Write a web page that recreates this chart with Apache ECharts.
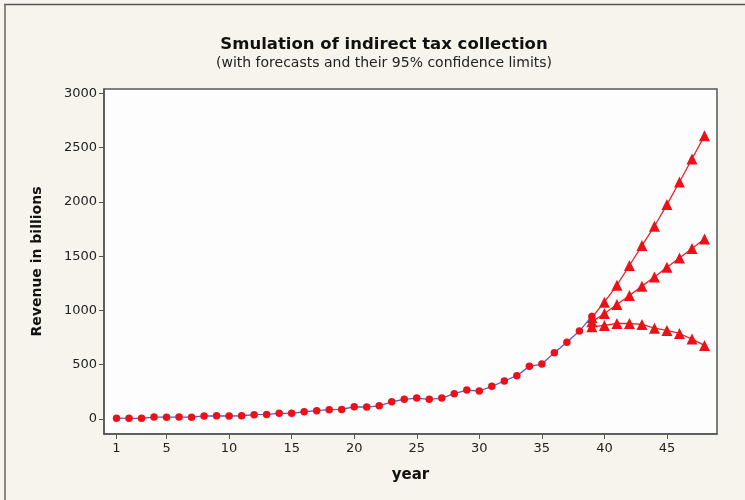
<!DOCTYPE html>
<html>
<head>
<meta charset="utf-8">
<script src="https://cdn.jsdelivr.net/npm/echarts@6/dist/echarts.min.js"></script>
<style>
html,body{margin:0;padding:0;background:#f6f4ec;}
#chart{width:745px;height:500px;}
</style>
</head>
<body>
<div id="chart"></div>
<script>
// Data
const years = [1,2,3,4,5,6,7,8,9,10,11,12,13,14,15,16,17,18,19,20,21,22,23,24,25,26,27,28,29,30,31,32,33,34,35,36,37,38,39];
const revenue = [8,6,7,18,17,18,17,28,29,28,30,40,42,52,52,67,77,86,88,113,110,122,159,181,193,181,193,233,267,258,301,350,399,485,506,610,708,810,945];
const forecastYears = [39,40,41,42,43,44,45,46,47,48];
const upper = [935,1076,1233,1414,1598,1776,1975,2183,2395,2610];
const forecast = [895,972,1055,1138,1224,1309,1398,1484,1570,1659];
const lower = [850,862,880,880,871,837,816,788,736,678];
const xTicks = [1,5,10,15,20,25,30,35,40,45];
const yTicks = [0,500,1000,1500,2000,2500,3000];

const pair = (xs, ys) => xs.map((x, i) => [x, ys[i]]);
const font = 'DejaVu Sans';

const chart = echarts.init(document.getElementById('chart'));
const triSeries = (name, vals) => ({
  name, type: 'line', data: pair(forecastYears, vals),
  symbol: 'triangle', symbolSize: 11,
  lineStyle: { color: '#e8232a', width: 1.3 },
  itemStyle: { color: '#ee1018' },
  z: 3
});
chart.setOption({
  backgroundColor: '#f6f4ec',
  animation: false,
  title: {
    text: 'Smulation of indirect tax collection',
    subtext: '(with forecasts and their 95% confidence limits)',
    left: 379, top: 31, textAlign: 'center',
    itemGap: 3,
    textStyle: { fontFamily: font, fontSize: 16.5, fontWeight: 'bold', color: '#111' },
    subtextStyle: { fontFamily: font, fontSize: 14, color: '#222' }
  },
  grid: {
    left: 104, right: 28, top: 89, bottom: 66,
    show: true, backgroundColor: '#fdfdfd', borderColor: '#555', borderWidth: 1.5
  },
  xAxis: {
    type: 'value', min: 0, max: 49,
    name: 'year', nameLocation: 'middle', nameGap: 34,
    nameTextStyle: { fontFamily: font, fontSize: 15, fontWeight: 'bold', color: '#111' },
    axisLine: { show: true, onZero: false, lineStyle: { color: '#555', width: 1.5 } },
    axisTick: { show: true, length: 5, customValues: xTicks, lineStyle: { color: '#555' } },
    axisLabel: { customValues: xTicks, fontFamily: font, fontSize: 13, color: '#222', margin: 8 },
    splitLine: { show: false }
  },
  yAxis: {
    type: 'value', min: -138, max: 3040,
    name: 'Revenue in billions', nameLocation: 'middle', nameGap: 60,
    nameTextStyle: { fontFamily: font, fontSize: 14, fontWeight: 'bold', color: '#111' },
    axisLine: { show: true, onZero: false, lineStyle: { color: '#555', width: 1.5 } },
    axisTick: { show: true, length: 5, customValues: yTicks, lineStyle: { color: '#555' } },
    axisLabel: { customValues: yTicks, formatter: v => String(v), fontFamily: font, fontSize: 13, color: '#222', margin: 7 },
    splitLine: { show: false }
  },
  graphic: [
    { type: 'line', shape: { x1: 4, y1: 4.5, x2: 745, y2: 4.5 }, style: { stroke: '#555', lineWidth: 1.5 }, silent: true },
    { type: 'line', shape: { x1: 5, y1: 4, x2: 5, y2: 500 }, style: { stroke: '#666', lineWidth: 1.5 }, silent: true }
  ],
  series: [
    {
      name: 'Revenue', type: 'line', data: pair(years, revenue),
      symbol: 'circle', symbolSize: 7.5,
      lineStyle: { color: '#5a5ac8', width: 1.3 },
      itemStyle: { color: '#ee1018' },
      z: 4
    },
    triSeries('Upper', upper),
    triSeries('Forecast', forecast),
    triSeries('Lower', lower)
  ]
});
</script>
</body>
</html>
